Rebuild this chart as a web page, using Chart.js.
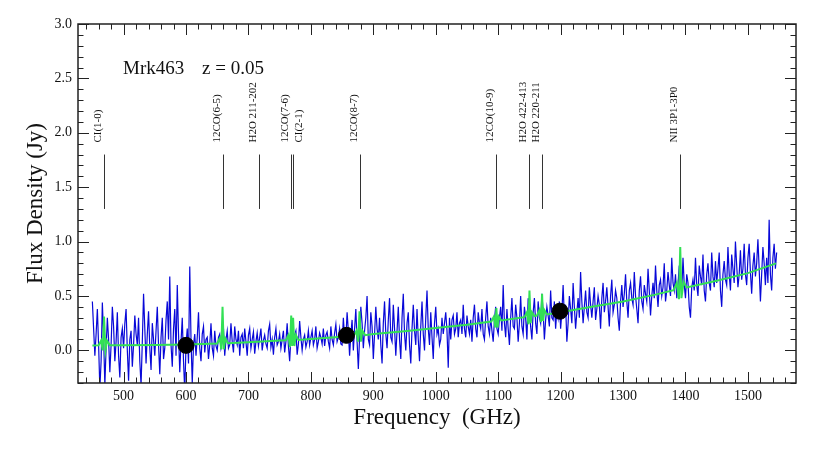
<!DOCTYPE html>
<html>
<head>
<meta charset="utf-8">
<script src="https://cdn.jsdelivr.net/npm/chart.js@4.4.1/dist/chart.umd.min.js"></script>
<style>
    html, body { margin: 0; padding: 0; background: #fff; }
    #wrap { width: 821px; height: 453px; }
</style>
</head>
<body>
<div id="wrap"><canvas id="chart__spectrum" width="821" height="453"></canvas></div>
<script>
// observed spectrum, sampled every 2 GHz from 450 GHz (one row = 50 GHz)
const specStart = 450;
const specStep = 2;
const specFlux = [
    0.45, 0.20, -0.05, 0.15, 0.38, 0.05, -0.35, -0.10, 0.44, 0.12, -0.32, 0.02, 0.30, 0.10, -0.20, 0.05, 0.40, 0.22, -0.10, 0.08, 0.35, -0.05, -0.25, 0.12, 0.20,
    0.02, 0.25, 0.38, 0.00, -0.28, 0.10, 0.18, -0.15, 0.05, 0.32, 0.15, 0.05, 0.30, -0.10, -0.32, 0.08, 0.52, 0.20, -0.12, 0.15, 0.36, 0.02, -0.18, 0.25, 0.10,
    -0.05, 0.18, 0.40, 0.05, -0.22, 0.12, 0.30, -0.08, 0.02, 0.28, 0.45, 0.10, 0.68, 0.05, -0.15, 0.20, 0.38, -0.05, 0.60, 0.15, -0.20, 0.08, 0.30, -0.10, -0.38,
    0.05, 0.20, -0.12, 0.77, 0.10, -0.30, 0.05, 0.15, -0.05, 0.12, 0.35, 0.02, -0.10, 0.15, 0.22, -0.02, 0.10, 0.12, -0.08, 0.05, 0.25, 0.02, -0.05, 0.18, 0.04,
    0.00, 0.12, 0.15, 0.02, 0.08, 0.20, -0.05, 0.10, 0.18, 0.02, 0.05, 0.25, 0.08, -0.02, 0.22, 0.10, 0.05, 0.18, -0.05, 0.12, 0.15, 0.02, 0.20, 0.08, -0.05,
    0.14, 0.20, 0.02, 0.10, 0.17, -0.03, 0.08, 0.16, 0.04, 0.12, 0.20, 0.00, 0.09, 0.14, 0.06, 0.02, 0.18, 0.24, 0.03, 0.10, -0.04, 0.12, 0.20, 0.05, 0.08,
    0.15, 0.02, 0.10, 0.18, -0.02, 0.08, 0.25, 0.04, -0.10, 0.12, 0.22, 0.05, 0.14, 0.18, -0.04, 0.06, 0.27, 0.12, 0.00, 0.10, 0.14, 0.03, 0.08, 0.18, 0.05,
    0.12, 0.18, 0.05, 0.10, 0.22, 0.02, 0.08, 0.16, 0.12, 0.06, 0.20, 0.04, 0.14, 0.17, 0.08, 0.02, 0.22, 0.10, 0.05, 0.16, 0.24, 0.08, 0.12, 0.20, 0.06,
    0.05, 0.30, 0.12, 0.10, 0.35, 0.18, -0.05, 0.15, 0.28, 0.00, 0.20, 0.38, 0.08, -0.17, 0.12, 0.40, 0.25, 0.02, 0.18, 0.30, 0.50, 0.10, 0.05, 0.35, 0.22,
    -0.08, 0.15, 0.40, 0.20, 0.10, 0.30, 0.05, -0.12, 0.25, 0.45, 0.15, 0.02, 0.28, 0.48, 0.12, 0.08, 0.42, 0.20, -0.05, 0.18, 0.40, 0.10, -0.08, 0.30, 0.52,
    0.15, 0.00, 0.25, 0.35, 0.05, -0.12, 0.20, 0.42, 0.18, 0.05, 0.38, 0.10, -0.10, 0.22, 0.45, 0.15, 0.00, 0.30, 0.55, 0.20, 0.05, 0.35, 0.12, -0.08, 0.25,
    0.40, 0.15, 0.20, 0.05, 0.10, 0.30, 0.15, 0.25, 0.35, 0.18, -0.16, 0.30, 0.10, 0.28, 0.32, 0.15, 0.20, 0.35, 0.12, 0.25, 0.28, 0.15, 0.42, 0.20, 0.12,
    0.32, 0.22, 0.15, 0.28, 0.08, 0.30, 0.42, 0.20, 0.12, 0.35, 0.25, 0.20, 0.38, 0.15, 0.10, 0.30, 0.45, 0.22, 0.15, 0.30, 0.18, 0.08, 0.28, 0.40, 0.20,
    0.15, 0.30, 0.40, 0.18, 0.60, 0.25, 0.12, 0.38, 0.20, 0.05, 0.30, 0.48, 0.22, 0.20, 0.42, 0.30, 0.08, 0.25, 0.50, 0.22, 0.15, 0.40, 0.30, 0.10, 0.48,
    0.40, 0.22, 0.10, 0.35, 0.48, 0.25, 0.15, 0.45, 0.30, 0.25, 0.52, 0.35, 0.10, 0.28, 0.40, 0.32, 0.22, 0.55, 0.30, 0.28, 0.45, 0.20, 0.38, 0.30, 0.45,
    0.20, 0.35, 0.60, 0.30, 0.42, 0.08, 0.25, 0.50, 0.38, 0.25, 0.62, 0.40, 0.20, 0.35, 0.48, 0.30, 0.72, 0.45, 0.25, 0.40, 0.55, 0.35, 0.30, 0.58, 0.42,
    0.30, 0.45, 0.58, 0.28, 0.38, 0.50, 0.42, 0.20, 0.48, 0.62, 0.35, 0.45, 0.58, 0.40, 0.22, 0.50, 0.65, 0.35, 0.42, 0.55, 0.48, 0.30, 0.18, 0.45, 0.60,
    0.40, 0.52, 0.70, 0.45, 0.30, 0.55, 0.62, 0.48, 0.42, 0.72, 0.50, 0.38, 0.25, 0.55, 0.68, 0.45, 0.38, 0.60, 0.52, 0.45, 0.75, 0.55, 0.32, 0.50, 0.62,
    0.48, 0.78, 0.55, 0.40, 0.60, 0.65, 0.50, 0.58, 0.80, 0.45, 0.55, 0.72, 0.60, 0.50, 0.85, 0.62, 0.55, 0.70, 0.48, 0.60, 0.78, 0.65, 0.55, 0.85, 0.60,
    0.48, 0.70, 0.62, 0.40, 0.30, 0.58, 0.65, 0.55, 0.85, 0.60, 0.50, 0.78, 0.68, 0.60, 0.88, 0.55, 0.45, 0.70, 0.80, 0.62, 0.55, 0.90, 0.68, 0.58, 0.82,
    0.62, 0.75, 0.90, 0.55, 0.40, 0.70, 0.82, 0.65, 0.60, 0.95, 0.70, 0.55, 0.88, 0.75, 0.62, 1.00, 0.78, 0.58, 0.70, 0.92, 0.65, 0.75, 0.98, 0.70, 0.60,
    0.85, 0.98, 0.72, 0.52, 0.78, 0.90, 0.68, 0.80, 1.02, 0.75, 0.45, 0.70, 0.95, 0.80, 0.60, 0.85, 0.62, 1.20, 0.70, 0.55, 0.85, 0.98, 0.75, 0.90
];

// fitted model: continuum plus line profiles
const fitFreq = [
    450, 460, 464, 466.5, 468.7, 471, 473.5, 478,
    500, 550, 600,
    650, 654, 656.5, 658.5, 660.5, 663, 667,
    700, 750,
    760, 764, 766.5, 768.5, 770, 771.5, 773.5, 776, 780,
    800, 850,
    869, 873, 875.5, 877.9, 880, 882.5, 887,
    900, 950, 1000, 1050,
    1089, 1093, 1095.5, 1097.1, 1099, 1101, 1105,
    1142, 1146, 1148.5, 1150.1, 1152, 1154, 1158,
    1162, 1166, 1168.5, 1170.3, 1172, 1174, 1178,
    1200, 1250, 1300, 1350,
    1381, 1386, 1389.5, 1391.6, 1393.5, 1397, 1402,
    1450, 1500, 1545
];
const fitFlux = [
    0.045, 0.046, 0.09, 0.00, 0.31, 0.00, 0.09, 0.046,
    0.047, 0.050, 0.055,
    0.063, 0.11, 0.01, 0.40, 0.01, 0.11, 0.066,
    0.075, 0.090,
    0.092, 0.14, 0.03, 0.32, 0.04, 0.30, 0.04, 0.14, 0.095,
    0.105, 0.125,
    0.135, 0.18, 0.08, 0.36, 0.08, 0.18, 0.14,
    0.150, 0.175, 0.205, 0.235,
    0.265, 0.31, 0.21, 0.39, 0.21, 0.31, 0.275,
    0.305, 0.35, 0.24, 0.55, 0.25, 0.35, 0.315,
    0.320, 0.37, 0.26, 0.52, 0.27, 0.37, 0.33,
    0.350, 0.400, 0.450, 0.510,
    0.553, 0.62, 0.47, 0.95, 0.48, 0.63, 0.578,
    0.640, 0.710, 0.800
];

// photometry points
const photFreq = [600, 857, 1199];
const photFlux = [0.046, 0.138, 0.36];

// redshifted line positions (GHz) and labels
const lineFreq = [468.7, 658.5, 716.2, 768.2, 770.8, 877.9, 1097.1, 1150.1, 1170.3, 1391.6];
const lineLabels = ['CI(1-0)', '12CO(6-5)', 'H2O 211-202', '12CO(7-6)', 'CI(2-1)', '12CO(8-7)', '12CO(10-9)', 'H2O 422-413', 'H2O 220-211', 'NII 3P1-3P0'];
const lineMarkLow = 1.3;
const lineMarkHigh = 1.8;

const xTicks = [500, 600, 700, 800, 900, 1000, 1100, 1200, 1300, 1400, 1500];
const yTicks = [0.0, 0.5, 1.0, 1.5, 2.0, 2.5, 3.0];

const SERIF = '"Liberation Serif", "DejaVu Serif", serif';

const frameTicks = {
    id: 'frameTicks',
    afterDraw(chart) {
        const { ctx, chartArea: a, scales: { x, y } } = chart;
        ctx.save();
        ctx.strokeStyle = '#222';
        ctx.lineWidth = 1;
        ctx.beginPath();
        for (let v = 440; v <= 1560; v += 20) {
            const px = Math.round(x.getPixelForValue(v)) + 0.5;
            const len = v % 100 === 0 ? 11 : 5.5;
            ctx.moveTo(px, a.bottom); ctx.lineTo(px, a.bottom - len);
            ctx.moveTo(px, a.top); ctx.lineTo(px, a.top + len);
        }
        for (let i = -3; i <= 30; i++) {
            const py = Math.round(y.getPixelForValue(i / 10)) + 0.5;
            const len = i % 5 === 0 ? 11 : 5.5;
            ctx.moveTo(a.left, py); ctx.lineTo(a.left + len, py);
            ctx.moveTo(a.right, py); ctx.lineTo(a.right - len, py);
        }
        ctx.stroke();
        ctx.lineWidth = 1.5;
        ctx.strokeRect(a.left, a.top, a.right - a.left, a.bottom - a.top);

        // axis titles
        ctx.fillStyle = '#111';
        ctx.font = '23px ' + SERIF;
        ctx.textAlign = 'center';
        ctx.textBaseline = 'middle';
        ctx.fillText('Frequency  (GHz)', (a.left + a.right) / 2, 418);
        ctx.save();
        ctx.translate(36, (a.top + a.bottom) / 2);
        ctx.rotate(-Math.PI / 2);
        ctx.fillText('Flux Density (Jy)', 0, 0);
        ctx.restore();

        // object name and redshift
        ctx.font = '19px ' + SERIF;
        ctx.textAlign = 'left';
        ctx.textBaseline = 'alphabetic';
        ctx.fillText('Mrk463', 123, 74);
        ctx.fillText('z = 0.05', 202, 74);
        ctx.restore();
    }
};

const lineMarks = {
    id: 'lineMarks',
    afterDatasetsDraw(chart) {
        const { ctx, scales: { x, y } } = chart;
        const yLow = y.getPixelForValue(lineMarkLow);
        const yHigh = y.getPixelForValue(lineMarkHigh);
        ctx.save();
        ctx.strokeStyle = '#333';
        ctx.lineWidth = 1;
        ctx.fillStyle = '#111';
        ctx.font = '11px ' + SERIF;
        ctx.textAlign = 'left';
        ctx.textBaseline = 'middle';
        lineFreq.forEach((f, i) => {
            const px = Math.round(x.getPixelForValue(f)) + 0.5;
            ctx.beginPath();
            ctx.moveTo(px, yLow);
            ctx.lineTo(px, yHigh);
            ctx.stroke();
            // a line sitting right next to the previous one gets its label on the other side
            const close = i > 0 && f - lineFreq[i - 1] < 5;
            ctx.save();
            ctx.translate(px + (close ? 6 : -6), yHigh - 12);
            ctx.rotate(-Math.PI / 2);
            ctx.fillText(lineLabels[i], 0, 0);
            ctx.restore();
        });
        ctx.restore();
    }
};

new Chart(
    document.getElementById('chart__spectrum'),
    {
        type: 'line',
        data: {
            datasets: [
                {
                    type: 'scatter',
                    label: 'Photometry',
                    data: photFreq.map((f, i) => ({ x: f, y: photFlux[i] })),
                    pointRadius: 8,
                    pointBackgroundColor: '#000',
                    pointBorderColor: '#000',
                    order: 0
                },
                {
                    label: 'Model',
                    data: fitFreq.map((f, i) => ({ x: f, y: fitFlux[i] })),
                    borderColor: '#33e055',
                    borderWidth: 2,
                    pointRadius: 0,
                    tension: 0,
                    order: 1
                },
                {
                    label: 'Spectrum',
                    data: specFlux.map((v, i) => ({ x: specStart + i * specStep, y: v })),
                    borderColor: '#0808d8',
                    borderWidth: 1.2,
                    pointRadius: 0,
                    tension: 0,
                    order: 2
                }
            ]
        },
        options: {
            responsive: false,
            animation: false,
            devicePixelRatio: 1,
            layout: { padding: { top: 24, right: 25, left: 0, bottom: 0 } },
            plugins: {
                legend: { display: false },
                tooltip: { enabled: false }
            },
            scales: {
                x: {
                    type: 'linear',
                    min: 427,
                    max: 1577,
                    afterFit: s => { s.height = 70; },
                    afterBuildTicks: s => { s.ticks = xTicks.map(v => ({ value: v })); },
                    grid: { display: false, drawTicks: false },
                    border: { display: false },
                    ticks: {
                        padding: 5,
                        color: '#111',
                        font: { family: SERIF, size: 14 },
                        maxRotation: 0,
                        callback: v => String(v)
                    }
                },
                y: {
                    type: 'linear',
                    min: -0.3,
                    max: 3.0,
                    afterFit: s => { s.width = 78; },
                    afterBuildTicks: s => { s.ticks = yTicks.map(v => ({ value: v })); },
                    grid: { display: false, drawTicks: false },
                    border: { display: false },
                    ticks: {
                        padding: 6,
                        color: '#111',
                        font: { family: SERIF, size: 14 },
                        callback: v => v.toFixed(1)
                    }
                }
            }
        },
        plugins: [lineMarks, frameTicks]
    }
);
</script>
</body>
</html>
